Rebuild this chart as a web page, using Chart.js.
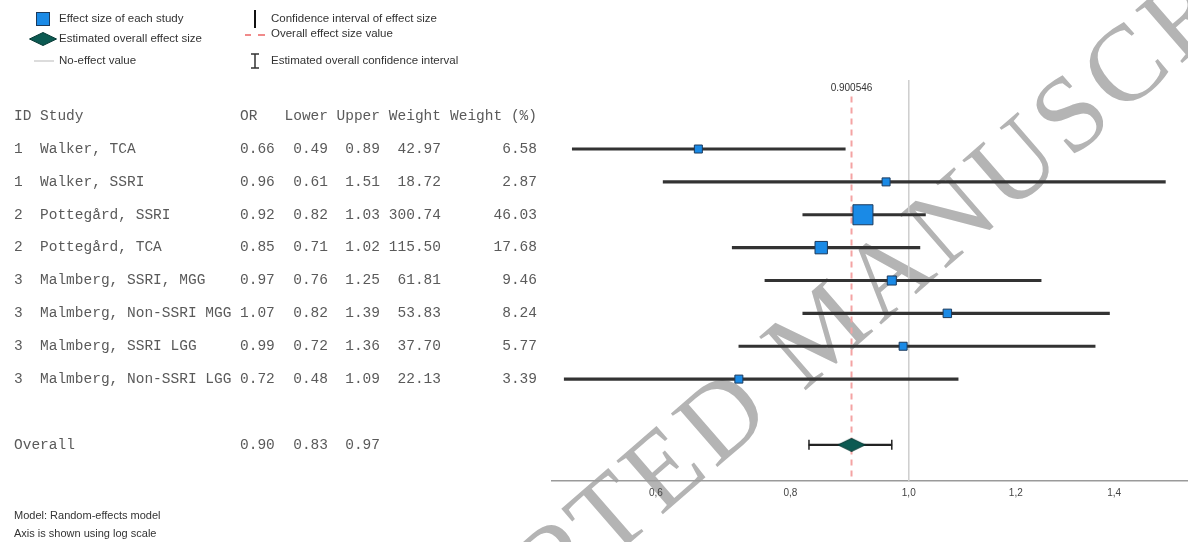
<!DOCTYPE html>
<html>
<head>
<meta charset="utf-8">
<script src="https://cdn.jsdelivr.net/npm/chart.js@4.4.1/dist/chart.umd.min.js"></script>
<style>
  html, body { margin: 0; padding: 0; background: #fff; }
  #forest { display: block; }
</style>
</head>
<body>
<canvas id="forest" width="1188" height="542"></canvas>
<script>
// study table
var ids = ['1', '1', '2', '2', '3', '3', '3', '3'];
var studies = ['Walker, TCA', 'Walker, SSRI', 'Pottegård, SSRI', 'Pottegård, TCA',
  'Malmberg, SSRI, MGG', 'Malmberg, Non-SSRI MGG', 'Malmberg, SSRI LGG', 'Malmberg, Non-SSRI LGG'];
var oddsRatio = [0.66, 0.96, 0.92, 0.85, 0.97, 1.07, 0.99, 0.72];
var lower = [0.49, 0.61, 0.82, 0.71, 0.76, 0.82, 0.72, 0.48];
var upper = [0.89, 1.51, 1.03, 1.02, 1.25, 1.39, 1.36, 1.09];
var weight = [42.97, 18.72, 300.74, 115.50, 61.81, 53.83, 37.70, 22.13];
var weightPct = [6.58, 2.87, 46.03, 17.68, 9.46, 8.24, 5.77, 3.39];
// overall: estimate, lower, upper
var overall = [0.900546, 0.83, 0.97];
var tickValues = [0.6, 0.8, 1.0, 1.2, 1.4];

var rows = studies.map(function (s, i) { return i + 1; });
var overallRow = 10;
var yTop = -1.1, yBottom = 11.1;

// the axis of the original is spaced like a square-root scale
class SqrtScale extends Chart.LinearScale {
  static id = 'sqrt';
  static defaults = Chart.LinearScale.defaults;
  configure() {
    super.configure();
    this._sMin = Math.sqrt(this.min);
    this._sRange = Math.sqrt(this.max) - this._sMin;
  }
  getPixelForValue(v) {
    if (v === null || v === undefined) return NaN;
    return this.getPixelForDecimal((Math.sqrt(v) - this._sMin) / this._sRange);
  }
  getValueForPixel(p) {
    var s = this._sMin + this.getDecimalForPixel(p) * this._sRange;
    return s * s;
  }
}
Chart.register(SqrtScale);

function diamondImage(w, h) {
  var c = document.createElement('canvas');
  c.width = w; c.height = h;
  var g = c.getContext('2d');
  g.beginPath();
  g.moveTo(0.5, h / 2); g.lineTo(w / 2, 0.5); g.lineTo(w - 0.5, h / 2); g.lineTo(w / 2, h - 0.5);
  g.closePath();
  g.fillStyle = '#0c5a52';
  g.fill();
  g.strokeStyle = '#073a35';
  g.stroke();
  return c;
}
var diamond = diamondImage(28, 14);

var watermark = {
  id: 'watermark',
  beforeDraw: function (chart) {
    var ctx = chart.ctx;
    var text = 'ACCEPTED MANUSCRIPT';
    var ang = -41 * Math.PI / 180;
    ctx.save();
    ctx.fillStyle = '#fff';
    ctx.fillRect(0, 0, chart.width, chart.height);
    ctx.font = '108px "Liberation Serif"';
    ctx.letterSpacing = '6px';
    ctx.textBaseline = 'middle';
    // put the centre of the "D" at the spot it has in the original
    var off = ctx.measureText('ACCEPTE').width + ctx.measureText('D').width / 2;
    ctx.translate(728 - off * Math.cos(ang), 420 - off * Math.sin(ang));
    ctx.rotate(ang);
    ctx.fillStyle = '#b4b4b4';
    ctx.fillText(text, 0, 0);
    ctx.restore();
  }
};

var tableAndLegend = {
  id: 'tableAndLegend',
  afterDraw: function (chart) {
    var ctx = chart.ctx;
    var y = chart.scales.y, x = chart.scales.x;
    ctx.save();

    // label above the dashed line
    ctx.font = '10px "Liberation Sans"';
    ctx.fillStyle = '#333';
    ctx.textAlign = 'center';
    ctx.textBaseline = 'middle';
    ctx.fillText(String(overall[0]), x.getPixelForValue(overall[0]), 88);

    // table
    ctx.font = '14.5px "Liberation Mono"';
    ctx.fillStyle = '#5a5a5a';
    function row(py, cells) {
      cells.forEach(function (c) {
        ctx.textAlign = c[2];
        ctx.fillText(c[0], c[1], py);
      });
    }
    row(y.getPixelForValue(0), [['ID', 14, 'left'], ['Study', 40, 'left'], ['OR', 240, 'left'],
      ['Lower', 328, 'right'], ['Upper', 380, 'right'], ['Weight', 441, 'right'], ['Weight (%)', 537, 'right']]);
    rows.forEach(function (r, i) {
      row(y.getPixelForValue(r), [[ids[i], 14, 'left'], [studies[i], 40, 'left'],
        [oddsRatio[i].toFixed(2), 240, 'left'], [lower[i].toFixed(2), 328, 'right'],
        [upper[i].toFixed(2), 380, 'right'], [weight[i].toFixed(2), 441, 'right'],
        [weightPct[i].toFixed(2), 537, 'right']]);
    });
    row(y.getPixelForValue(overallRow), [['Overall', 14, 'left'], [overall[0].toFixed(2), 240, 'left'],
      [overall[1].toFixed(2), 328, 'right'], [overall[2].toFixed(2), 380, 'right']]);

    // legend
    ctx.textAlign = 'left';
    ctx.font = '11.5px "Liberation Sans"';
    ctx.fillStyle = '#1a8ae6';
    ctx.fillRect(36, 12, 14, 14);
    ctx.strokeStyle = '#1c3a5c';
    ctx.lineWidth = 1;
    ctx.strokeRect(36.5, 12.5, 13, 13);
    ctx.drawImage(diamond, 29, 32);
    ctx.strokeStyle = '#d0d0d0';
    ctx.lineWidth = 1.5;
    ctx.beginPath(); ctx.moveTo(34, 61); ctx.lineTo(54, 61); ctx.stroke();

    ctx.strokeStyle = '#111';
    ctx.lineWidth = 2;
    ctx.beginPath(); ctx.moveTo(255, 10); ctx.lineTo(255, 28); ctx.stroke();
    ctx.strokeStyle = '#f08a8a';
    ctx.beginPath(); ctx.moveTo(245, 35); ctx.lineTo(251, 35); ctx.moveTo(258, 35); ctx.lineTo(265, 35); ctx.stroke();
    ctx.strokeStyle = '#333';
    ctx.lineWidth = 1.5;
    ctx.beginPath();
    ctx.moveTo(255, 54); ctx.lineTo(255, 68);
    ctx.moveTo(251, 54); ctx.lineTo(259, 54);
    ctx.moveTo(251, 68); ctx.lineTo(259, 68);
    ctx.stroke();

    ctx.fillStyle = '#333';
    ctx.fillText('Effect size of each study', 59, 19);
    ctx.fillText('Estimated overall effect size', 59, 39);
    ctx.fillText('No-effect value', 59, 61);
    ctx.fillText('Confidence interval of effect size', 271, 19);
    ctx.fillText('Overall effect size value', 271, 34);
    ctx.fillText('Estimated overall confidence interval', 271, 61);

    // footnote
    ctx.font = '11px "Liberation Sans"';
    ctx.fillText('Model: Random-effects model', 14, 516);
    ctx.fillText('Axis is shown using log scale', 14, 534);
    ctx.restore();
  }
};

var ctx = document.getElementById('forest');

var forest = new Chart(ctx, {
  type: 'scatter',
  data: {
    datasets: [
      {
        // effect size of each study
        type: 'scatter',
        data: rows.map(function (r, i) { return { x: oddsRatio[i], y: r }; }),
        pointStyle: 'rect',
        pointRadius: weightPct.map(function (w) { return Math.max(8, 2.95 * Math.sqrt(w)) / Math.SQRT2; }),
        backgroundColor: '#1a8ae6',
        borderColor: '#1c3a5c',
        borderWidth: 1,
        order: 0,
      },
      {
        // estimated overall effect size
        type: 'scatter',
        data: [{ x: overall[0], y: overallRow }],
        pointStyle: diamond,
        order: 0,
      },
      {
        // caps of the overall interval
        type: 'scatter',
        data: [{ x: overall[1], y: overallRow }, { x: overall[2], y: overallRow }],
        pointStyle: 'line',
        rotation: 90,
        pointRadius: 5,
        borderColor: '#222',
        borderWidth: 1.5,
        order: 1,
      },
      {
        // confidence intervals
        type: 'bar',
        indexAxis: 'y',
        grouped: false,
        data: rows.map(function (r, i) { return { x: [lower[i], upper[i]], y: r }; }),
        barThickness: 2.5,
        backgroundColor: '#333',
        borderWidth: 0,
        order: 2,
      },
      {
        type: 'bar',
        indexAxis: 'y',
        grouped: false,
        data: [{ x: [overall[1], overall[2]], y: overallRow }],
        barThickness: 1.5,
        backgroundColor: '#222',
        borderWidth: 0,
        order: 2,
      },
      {
        // no-effect line
        type: 'line',
        data: [{ x: 1, y: yTop }, { x: 1, y: yBottom }],
        borderColor: '#cfcfcf',
        borderWidth: 1,
        pointRadius: 0,
        order: 3,
      },
      {
        // overall effect size line
        type: 'line',
        data: [{ x: overall[0], y: -0.6 }, { x: overall[0], y: yBottom }],
        borderColor: '#f4a3a3',
        borderWidth: 2,
        borderDash: [6, 5],
        pointRadius: 0,
        order: 3,
      },
    ],
  },
  options: {
    responsive: false,
    animation: false,
    events: [],
    layout: { autoPadding: false, padding: { left: 552, top: 80, right: 0, bottom: 0 } },
    plugins: {
      legend: { display: false },
      tooltip: { enabled: false },
    },
    scales: {
      x: {
        type: 'sqrt',
        position: 'bottom',
        min: 0.465,
        max: 1.56,
        bounds: 'data',
        offset: false,
        grid: { display: false, drawTicks: false },
        border: { display: true, color: '#9a9a9a', width: 1.5 },
        ticks: {
          autoSkip: false,
          maxRotation: 0,
          padding: 6,
          color: '#444',
          font: { family: '"Liberation Sans"', size: 10 },
          callback: function (v) { return Number(v).toFixed(1).replace('.', ','); },
        },
        afterBuildTicks: function (scale) {
          scale.ticks = tickValues.map(function (v) { return { value: v }; });
        },
        afterFit: function (scale) { scale.height = 61; },
      },
      y: {
        type: 'linear',
        display: false,
        reverse: true,
        offset: false,
        grid: { offset: false },
        min: yTop,
        max: yBottom,
      },
    },
  },
  plugins: [watermark, tableAndLegend],
});
</script>
</body>
</html>
